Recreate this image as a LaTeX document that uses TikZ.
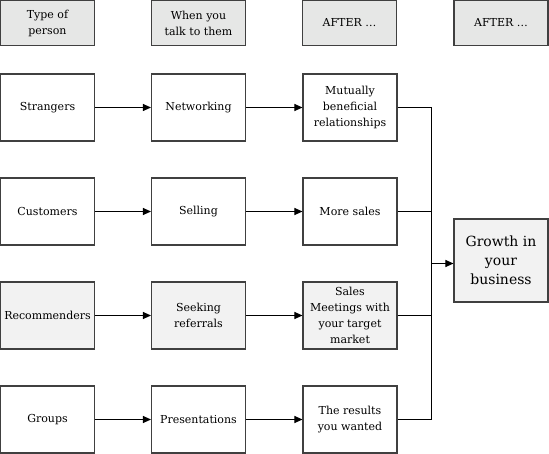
\documentclass[tikz,border=0pt]{standalone}
\usepackage{fontspec}
\setmainfont{DejaVu Serif}
\usepackage{tikz}
\usetikzlibrary{calc,shapes,arrows.meta}
\definecolor{headgrey}{HTML}{E6E7E6}
\definecolor{lightgrey}{HTML}{F2F2F2}
\definecolor{edgegrey}{HTML}{404040}
\tikzstyle{whitebox}=[rectangle,draw=edgegrey,fill=white,line width=1.1pt,
                      minimum width=94pt,minimum height=67pt,inner sep=1pt,
                      align=center,font=\fontsize{11}{16}\selectfont]
\tikzstyle{greybox}=[whitebox,fill=lightgrey]
\tikzstyle{headbox}=[whitebox,fill=headgrey,minimum height=45pt]
\tikzstyle{goalbox}=[whitebox,fill=lightgrey,minimum height=83pt,
                     font=\fontsize{14}{19}\selectfont]
\tikzstyle{link}=[draw=black,line width=1pt,-{Triangle[length=8pt,width=7pt]}]
\tikzstyle{barline}=[draw=black,line width=1.1pt]
\newcommand\vertspacing{-104}
\newcommand\colspacing{151}

\begin{document}
\begin{tikzpicture}[x=1pt,y=1pt]
    \useasboundingbox (0,0) rectangle (549,-454);
    % column headings
    \node [headbox] (head type) at ($(47.5,-23)$) {Type of\\person};
    \node [headbox] (head when) at ($(47.5+\colspacing*1,-23)$) {When you\\talk to them};
    \node [headbox] (head after) at ($(47.5+\colspacing*2,-23)$) {AFTER \dots};
    \node [headbox] (head after2) at ($(501,-23)$) {AFTER \dots};
    % type of person
    \node [whitebox] (Strangers) at ($(47.5,-3.5+\vertspacing*1)$) {Strangers};
    \node [whitebox] (Customers) at ($(47.5,-3.5+\vertspacing*2)$) {Customers};
    \node [greybox] (Recommenders) at ($(47.5,-3.5+\vertspacing*3)$) {Recommenders};
    \node [whitebox] (Groups) at ($(47.5,-3.5+\vertspacing*4)$) {Groups};
    % when you talk to them
    \node [whitebox] (Networking) at ($(47.5+\colspacing,-3.5+\vertspacing*1)$) {Networking};
    \node [whitebox] (Selling) at ($(47.5+\colspacing,-3.5+\vertspacing*2)$) {Selling};
    \node [greybox] (Seeking) at ($(47.5+\colspacing,-3.5+\vertspacing*3)$) {Seeking\\referrals};
    \node [whitebox] (Presentations) at ($(47.5+\colspacing,-3.5+\vertspacing*4)$) {Presentations};
    % after
    \node [whitebox] (Mutually) at ($(350,-3.5+\vertspacing*1)$) {Mutually\\beneficial\\relationships};
    \node [whitebox] (More sales) at ($(350,-3.5+\vertspacing*2)$) {More sales};
    \node [greybox] (Sales meetings) at ($(350,-3.5+\vertspacing*3)$) {Sales\\Meetings with\\your target\\market};
    \node [whitebox] (Results) at ($(350,-3.5+\vertspacing*4)$) {The results\\you wanted};
    \node [goalbox] (Growth) at (501,-260.5) {Growth in\\your\\business};
    % arrows along the rows
    \draw [link] (Strangers) -- (Networking);
    \draw [link] (Networking) -- (Mutually);
    \draw [link] (Customers) -- (Selling);
    \draw [link] (Selling) -- (More sales);
    \draw [link] (Recommenders) -- (Seeking);
    \draw [link] (Seeking) -- (Sales meetings);
    \draw [link] (Groups) -- (Presentations);
    \draw [link] (Presentations) -- (Results);
    % joining bar
    \coordinate (bar top) at ($(Mutually.east)+(34,0)$);
    \coordinate (bar bottom) at ($(Results.east)+(34,0)$);
    \coordinate (bar mid) at ($(bar top)!0.5!(bar bottom)$);
    \draw [barline] (Mutually.east) -- (bar top) -- (bar bottom) -- (Results.east);
    \draw [barline] (More sales.east) -- (More sales.east -| bar top);
    \draw [barline] (Sales meetings.east) -- (Sales meetings.east -| bar top);
    \draw [link] (bar mid) -- (bar mid -| Growth.west);
\end{tikzpicture}
\end{document}
